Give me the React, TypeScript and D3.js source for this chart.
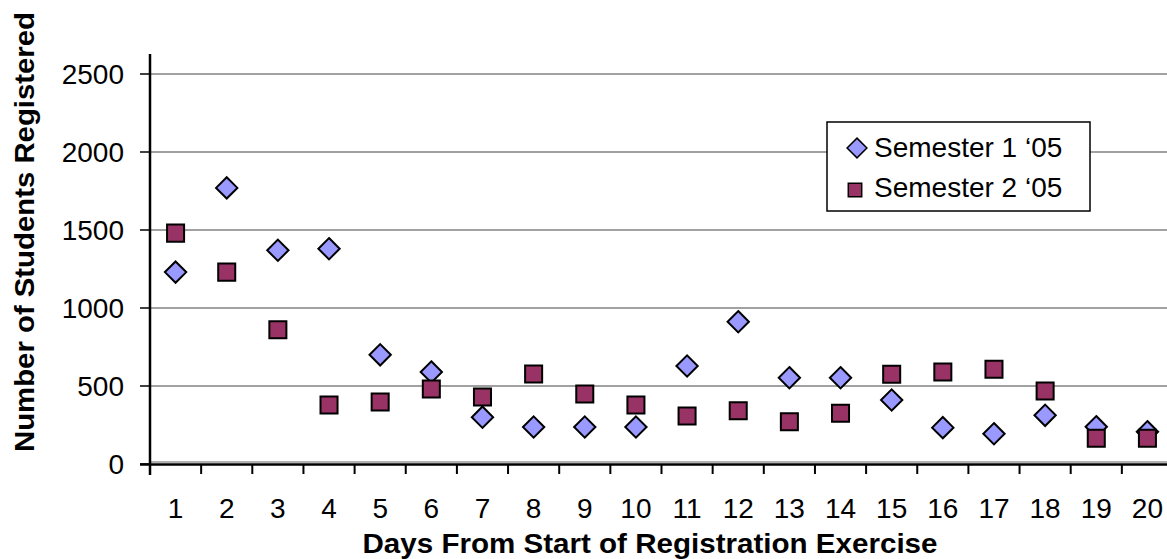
import React, { useEffect, useRef } from 'react';
import * as d3 from 'd3';

const days = d3.range(1, 21).map(String);
const semester1 = [1230, 1770, 1370, 1380, 700, 590, 300, 237, 237, 237, 628, 912, 553, 553, 410, 233, 194, 312, 239, 207];
const semester2 = [1480, 1230, 860, 378, 397, 481, 430, 577, 449, 378, 308, 342, 271, 325, 575, 590, 607, 468, 165, 165];
const yTicks = [0, 500, 1000, 1500, 2000, 2500];
const seriesNames = ['Semester 1 \u201805', 'Semester 2 \u201805'];

const W = 1167;
const H = 559;
const FONT = 'Arial, "Liberation Sans", sans-serif';

const App: React.FC = () => {
  const svgRef = useRef<SVGSVGElement>(null);

  useEffect(() => {
    if (!svgRef.current) return;
    const svg = d3.select(svgRef.current);
    svg.selectAll('*').remove();

    const x = d3.scaleBand<string>().domain(days).range([150, 1173]).padding(0);
    const y = d3.scaleLinear().domain([0, 2500]).range([464, 74]);
    const cx = (d: string) => (x(d) || 0) + x.bandwidth() / 2;

    // gridlines
    svg.append('g')
      .selectAll('line')
      .data(yTicks.filter(t => t > 0))
      .join('line')
      .attr('x1', 150).attr('x2', W)
      .attr('y1', d => y(d)).attr('y2', d => y(d))
      .attr('stroke', '#444')
      .attr('stroke-width', 1.2);

    // grey line just above the axis
    svg.append('line')
      .attr('x1', 150).attr('x2', W)
      .attr('y1', y(0) - 2).attr('y2', y(0) - 2)
      .attr('stroke', '#999').attr('stroke-width', 1.5);

    // x axis
    svg.append('line')
      .attr('x1', 140).attr('x2', W)
      .attr('y1', y(0) + 0.5).attr('y2', y(0) + 0.5)
      .attr('stroke', '#000').attr('stroke-width', 2.5);

    const boundaries = days.map(d => x(d) || 0).concat([x.range()[1]]);
    svg.append('g')
      .selectAll('line')
      .data(boundaries)
      .join('line')
      .attr('x1', d => d).attr('x2', d => d)
      .attr('y1', y(0)).attr('y2', y(0) + 10)
      .attr('stroke', '#000').attr('stroke-width', 2);

    svg.append('g')
      .selectAll('text')
      .data(days)
      .join('text')
      .attr('x', d => cx(d))
      .attr('y', 518)
      .attr('text-anchor', 'middle')
      .attr('font-family', FONT)
      .attr('font-size', 28)
      .text(d => d);

    // y axis
    svg.append('line')
      .attr('x1', 150).attr('x2', 150)
      .attr('y1', 54).attr('y2', 475)
      .attr('stroke', '#000').attr('stroke-width', 2.5);

    svg.append('g')
      .selectAll('line')
      .data(yTicks)
      .join('line')
      .attr('x1', 140).attr('x2', 150)
      .attr('y1', d => y(d)).attr('y2', d => y(d))
      .attr('stroke', '#000').attr('stroke-width', 1.5);

    svg.append('g')
      .selectAll('text')
      .data(yTicks)
      .join('text')
      .attr('x', 124)
      .attr('y', d => y(d) + 10)
      .attr('text-anchor', 'end')
      .attr('font-family', FONT)
      .attr('font-size', 28)
      .text(d => String(d));

    // axis titles
    svg.append('text')
      .attr('x', 650).attr('y', 553)
      .attr('text-anchor', 'middle')
      .attr('font-family', FONT)
      .attr('font-size', 28)
      .attr('font-weight', 'bold')
      .attr('textLength', 575)
      .attr('lengthAdjust', 'spacingAndGlyphs')
      .text('Days From Start of Registration Exercise');

    svg.append('text')
      .attr('transform', 'translate(34,232) rotate(-90)')
      .attr('text-anchor', 'middle')
      .attr('font-family', FONT)
      .attr('font-size', 28)
      .attr('font-weight', 'bold')
      .attr('textLength', 440)
      .attr('lengthAdjust', 'spacingAndGlyphs')
      .text('Number of Students Registered');

    const diamond = d3.symbol().type(d3.symbolDiamond2).size(290);
    const square = d3.symbol().type(d3.symbolSquare).size(290);

    svg.append('g')
      .selectAll('path')
      .data(semester1)
      .join('path')
      .attr('d', diamond)
      .attr('transform', (d, i) => `translate(${cx(days[i])},${y(d)})`)
      .attr('fill', '#9999ff')
      .attr('stroke', '#000')
      .attr('stroke-width', 2);

    svg.append('g')
      .selectAll('path')
      .data(semester2)
      .join('path')
      .attr('d', square)
      .attr('transform', (d, i) => `translate(${cx(days[i])},${y(d)})`)
      .attr('fill', '#993366')
      .attr('stroke', '#000')
      .attr('stroke-width', 2);

    // legend
    const lg = svg.append('g');
    lg.append('rect')
      .attr('x', 827).attr('y', 122)
      .attr('width', 263).attr('height', 89)
      .attr('fill', '#fff').attr('stroke', '#000').attr('stroke-width', 1.5);
    lg.append('path')
      .attr('d', d3.symbol().type(d3.symbolDiamond2).size(250)())
      .attr('transform', 'translate(857,148)')
      .attr('fill', '#9999ff').attr('stroke', '#000').attr('stroke-width', 1.5);
    lg.append('path')
      .attr('d', d3.symbol().type(d3.symbolSquare).size(180)())
      .attr('transform', 'translate(855,190)')
      .attr('fill', '#993366').attr('stroke', '#000').attr('stroke-width', 1.5);
    lg.selectAll('text.lbl')
      .data(seriesNames)
      .join('text')
      .attr('class', 'lbl')
      .attr('x', 874)
      .attr('y', (d, i) => 157 + i * 40)
      .attr('font-family', FONT)
      .attr('font-size', 28)
      .text(d => d);
  }, []);

  return (
    <div>
      <style>{`body{margin:0}`}</style>
      <svg ref={svgRef} width={W} height={H} style={{ display: 'block', background: '#fff' }} />
    </div>
  );
};

export default App;
